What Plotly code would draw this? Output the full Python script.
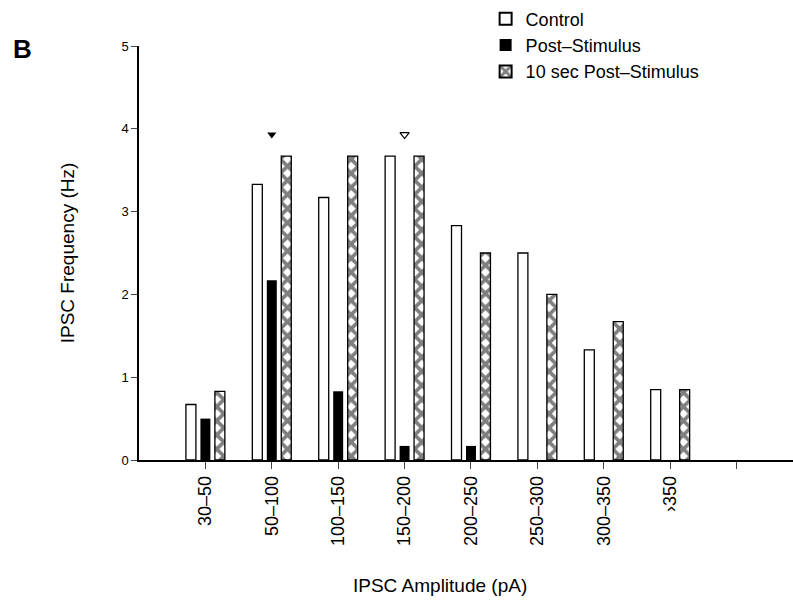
import plotly.graph_objects as go
import numpy as np

categories = ["30-50", "50-100", "100-150", "150-200", "200-250", "250-300", "300-350", ">350"]
tick_labels = ["30\u201350", "50\u2013100", "100\u2013150", "150\u2013200", "200\u2013250", "250\u2013300", "300\u2013350", "\u203a350", ""]
control = [0.67, 3.33, 3.17, 3.67, 2.83, 2.5, 1.33, 0.85]
post_stim = [0.5, 2.17, 0.83, 0.17, 0.17, 0, 0, 0]
post_10s = [0.83, 3.67, 3.67, 3.67, 2.5, 2.0, 1.67, 0.85]
sig_filled_cat = [2]   # 50-100
sig_open_cat = [4]     # 150-200
sig_level = 3.93

x = np.arange(1, len(categories) + 1)
FONT = "Liberation Sans, Arial, sans-serif"

fig = go.Figure()
fig.add_trace(go.Bar(x=x, y=control, name="Control",
                     marker=dict(color="white", line=dict(color="black", width=1.3))))
fig.add_trace(go.Bar(x=x, y=post_stim, name="Post\u2013Stimulus",
                     marker=dict(color="black", line=dict(color="black", width=0))))
fig.add_trace(go.Bar(x=x, y=post_10s, name="10 sec Post\u2013Stimulus",
                     marker=dict(color="white", line=dict(color="black", width=1.3),
                                 pattern=dict(shape="x", fgcolor="black", bgcolor="white",
                                              size=10, solidity=0.6))))
fig.add_trace(go.Scatter(x=sig_filled_cat, y=[sig_level] * len(sig_filled_cat), mode="markers",
                         marker=dict(symbol="triangle-down", size=8, color="black"),
                         showlegend=False))
fig.add_trace(go.Scatter(x=sig_open_cat, y=[sig_level] * len(sig_open_cat), mode="markers",
                         marker=dict(symbol="triangle-down-open", size=8, color="black",
                                     line=dict(width=1.2)),
                         showlegend=False))

fig.update_layout(
    width=793, height=600,
    margin=dict(l=139, r=0, t=46, b=140),
    plot_bgcolor="white", paper_bgcolor="white",
    barmode="group", bargap=0.346, bargroupgap=0.31,
    font=dict(family=FONT, color="black"),
    legend=dict(x=0.53, y=1.11, xanchor="left", yanchor="top",
                font=dict(size=18, family=FONT), bgcolor="rgba(0,0,0,0)",
                tracegroupgap=0, itemsizing="constant"),
    annotations=[
        dict(text="<b>B</b>", x=-0.195, y=1.035, xref="paper", yref="paper",
             showarrow=False, font=dict(size=26, family=FONT)),
        dict(text="IPSC Amplitude (pA)", x=0.46, y=-0.302, xref="paper", yref="paper",
             xanchor="center", yanchor="middle", showarrow=False,
             font=dict(size=19, family=FONT)),
    ],
)
fig.update_xaxes(range=[0, 9.85], tickvals=list(range(1, 10)), ticktext=tick_labels,
                 tickangle=-90, ticks="outside", ticklen=7, tickwidth=1.3,
                 showline=True, linecolor="black", linewidth=1.5, showgrid=False,
                 zeroline=False, tickfont=dict(size=18))
fig.update_yaxes(range=[0, 5], tickvals=[0, 1, 2, 3, 4, 5], ticks="outside", ticklen=6,
                 tickwidth=1.3, showline=True, linecolor="black", linewidth=1.5,
                 showgrid=False, zeroline=False, tickfont=dict(size=13),
                 title=dict(text="IPSC Frequency (Hz)", font=dict(size=19), standoff=42))

fig.write_html("out.html")
